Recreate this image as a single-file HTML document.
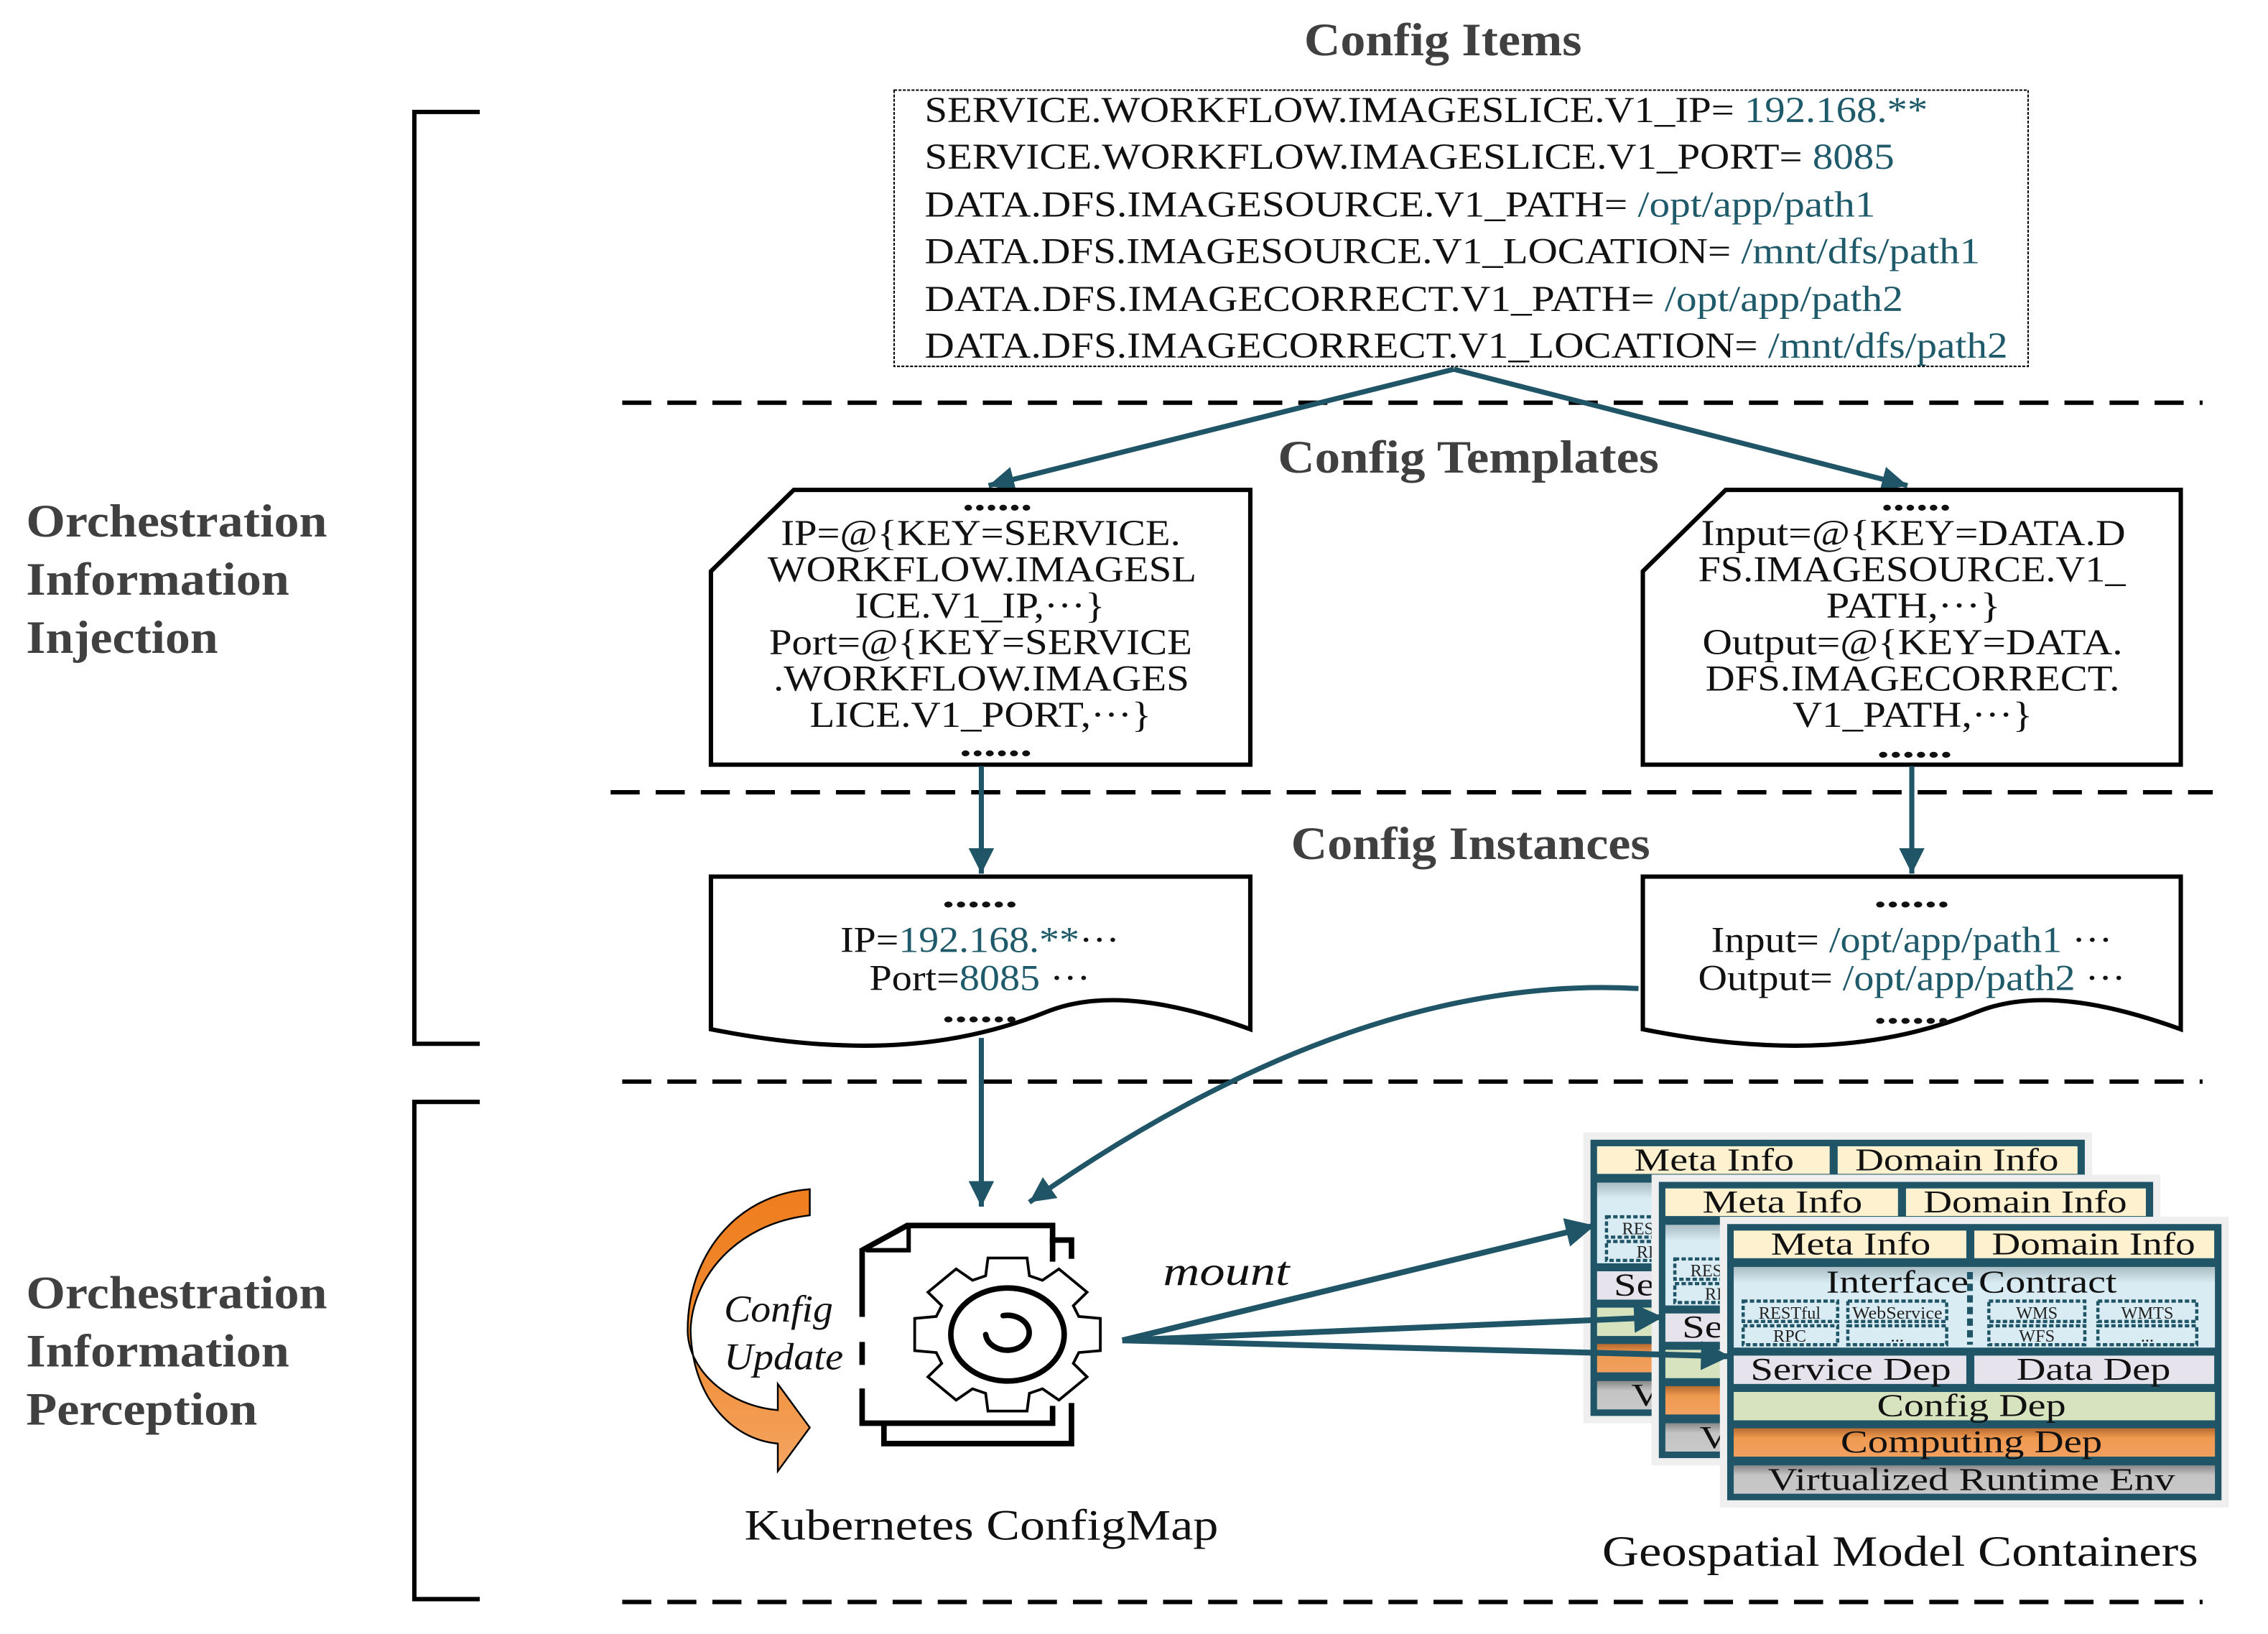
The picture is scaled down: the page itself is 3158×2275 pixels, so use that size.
<!DOCTYPE html>
<html><head><meta charset="utf-8">
<style>
html,body{margin:0;padding:0;background:#fff;}
svg{display:block;}
text{font-family:"Liberation Serif","Times New Roman",serif;}
</style></head>
<body>
<svg width="3158" height="2275" viewBox="0 0 1560 1124" preserveAspectRatio="none" xmlns="http://www.w3.org/2000/svg" font-family="'Liberation Serif', 'Times New Roman', serif">
<defs>
  <marker id="ah" viewBox="0 0 10 10" refX="10" refY="5" markerWidth="6" markerHeight="5" markerUnits="strokeWidth" orient="auto">
    <path d="M0,0 L10,5 L0,10 Z" fill="#1f5566"/>
  </marker>
  <marker id="ah2" viewBox="0 0 10 10" refX="10" refY="5" markerWidth="7" markerHeight="5" markerUnits="strokeWidth" orient="auto">
    <path d="M0,0 L10,5 L0,10 Z" fill="#1f5566"/>
  </marker>
  <linearGradient id="og" x1="0" y1="0" x2="0" y2="1">
    <stop offset="0" stop-color="#ef7d1e"/><stop offset="0.5" stop-color="#f08a30"/><stop offset="1" stop-color="#f4a562"/>
  </linearGradient>
  <linearGradient id="bl" x1="0" y1="0" x2="0" y2="1">
    <stop offset="0" stop-color="#a9bcc4"/><stop offset="0.2" stop-color="#d9ecf3"/><stop offset="1" stop-color="#d9ecf3"/>
  </linearGradient>
  <linearGradient id="cg" x1="0" y1="0" x2="0" y2="1">
    <stop offset="0" stop-color="#b86a30"/><stop offset="0.35" stop-color="#f09a50"/><stop offset="1" stop-color="#f2a060"/>
  </linearGradient>
  <linearGradient id="gg" x1="0" y1="0" x2="0" y2="1">
    <stop offset="0" stop-color="#888"/><stop offset="0.35" stop-color="#c4c4c4"/><stop offset="1" stop-color="#c8c8c8"/>
  </linearGradient>
  <g id="cont">
    <rect x="-5" y="-5" width="350" height="200" fill="#efefef"/>
    <rect x="0" y="0" width="340" height="190" fill="#1f5566"/>
    <rect x="4.5" y="4.5" width="160" height="19" fill="#fdf1cf"/>
    <rect x="170" y="4.5" width="165" height="19" fill="#fdf1cf"/>
    <text x="85" y="21" font-size="22" text-anchor="middle" fill="#111" textLength="110" lengthAdjust="spacingAndGlyphs">Meta Info</text>
    <text x="252" y="21" font-size="22" text-anchor="middle" fill="#111" textLength="140" lengthAdjust="spacingAndGlyphs">Domain Info</text>
    <rect x="4.5" y="29.5" width="331" height="55.5" fill="url(#bl)"/>
    <text x="168" y="47" font-size="22" text-anchor="middle" fill="#111" textLength="200" lengthAdjust="spacingAndGlyphs">Interface Contract</text>
    <line x1="167" y1="33" x2="167" y2="83" stroke="#1f5566" stroke-width="4" stroke-dasharray="5,3"/>
    <g fill="none" stroke="#1f5566" stroke-width="2.2" stroke-dasharray="3,1.6">
      <rect x="11" y="53" width="65" height="14"/><rect x="11" y="70" width="65" height="13"/>
      <rect x="83" y="53" width="68" height="14"/><rect x="83" y="70" width="68" height="13"/>
      <rect x="180" y="53" width="66" height="14"/><rect x="180" y="70" width="66" height="13"/>
      <rect x="255" y="53" width="68" height="14"/><rect x="255" y="70" width="68" height="13"/>
    </g>
    <g font-size="12" fill="#222" text-anchor="middle">
      <text x="43" y="65">RESTful</text><text x="43" y="81">RPC</text>
      <text x="117" y="65" textLength="62" lengthAdjust="spacingAndGlyphs">WebService</text><text x="117" y="81">...</text>
      <text x="213" y="65">WMS</text><text x="213" y="81">WFS</text>
      <text x="289" y="65">WMTS</text><text x="289" y="81">...</text>
    </g>
    <rect x="4.5" y="90.5" width="160" height="19.5" fill="#e6e3ec"/>
    <rect x="170" y="90.5" width="165" height="19.5" fill="#e6e3ec"/>
    <text x="85" y="107" font-size="22" text-anchor="middle" fill="#111" textLength="138" lengthAdjust="spacingAndGlyphs">Service Dep</text>
    <text x="252" y="107" font-size="22" text-anchor="middle" fill="#111" textLength="106" lengthAdjust="spacingAndGlyphs">Data Dep</text>
    <rect x="4.5" y="115.5" width="331" height="19.5" fill="#d7e3bf"/>
    <text x="168" y="132" font-size="22" text-anchor="middle" fill="#111" textLength="130" lengthAdjust="spacingAndGlyphs">Config Dep</text>
    <rect x="4.5" y="140.5" width="331" height="19.5" fill="url(#cg)"/>
    <text x="168" y="157" font-size="22" text-anchor="middle" fill="#111" textLength="180" lengthAdjust="spacingAndGlyphs">Computing Dep</text>
    <rect x="4.5" y="166" width="331" height="19.5" fill="url(#gg)"/>
    <text x="168" y="183" font-size="22" text-anchor="middle" fill="#111" textLength="280" lengthAdjust="spacingAndGlyphs">Virtualized Runtime Env</text>
  </g>
</defs>

<!-- brackets -->
<path d="M330,77 L285,77 L285,718 L330,718" fill="none" stroke="#000" stroke-width="3"/>
<path d="M330,758 L285,758 L285,1100 L330,1100" fill="none" stroke="#000" stroke-width="3"/>
<g font-size="32" font-weight="bold" fill="#404040">
  <text x="18" y="369" textLength="207" lengthAdjust="spacingAndGlyphs">Orchestration</text>
  <text x="18" y="409" textLength="181" lengthAdjust="spacingAndGlyphs">Information</text>
  <text x="18" y="449" textLength="132" lengthAdjust="spacingAndGlyphs">Injection</text>
  <text x="18" y="900" textLength="207" lengthAdjust="spacingAndGlyphs">Orchestration</text>
  <text x="18" y="940" textLength="181" lengthAdjust="spacingAndGlyphs">Information</text>
  <text x="18" y="980" textLength="159" lengthAdjust="spacingAndGlyphs">Perception</text>
</g>

<!-- dashed separators -->
<g stroke="#000" stroke-width="3" stroke-dasharray="20,11">
  <line x1="428" y1="277" x2="1515" y2="277"/>
  <line x1="420" y1="545" x2="1522" y2="545"/>
  <line x1="428" y1="744" x2="1515" y2="744"/>
  <line x1="428" y1="1102" x2="1515" y2="1102"/>
</g>

<!-- titles -->
<g font-size="32" font-weight="bold" fill="#404040">
  <text x="897" y="38" textLength="191" lengthAdjust="spacingAndGlyphs">Config Items</text>
  <text x="879" y="325" textLength="262" lengthAdjust="spacingAndGlyphs">Config Templates</text>
  <text x="888" y="591" textLength="247" lengthAdjust="spacingAndGlyphs">Config Instances</text>
</g>

<!-- config items -->
<rect x="615" y="62" width="780" height="190" fill="#fff" stroke="#000" stroke-width="1" stroke-dasharray="2,1"/>
<g font-size="25" fill="#111">
  <text x="636" y="84" textLength="690" lengthAdjust="spacingAndGlyphs">SERVICE.WORKFLOW.IMAGESLICE.V1_IP= <tspan fill="#1f5a6a">192.168.**</tspan></text>
  <text x="636" y="116" textLength="667" lengthAdjust="spacingAndGlyphs">SERVICE.WORKFLOW.IMAGESLICE.V1_PORT= <tspan fill="#1f5a6a">8085</tspan></text>
  <text x="636" y="149" textLength="654" lengthAdjust="spacingAndGlyphs">DATA.DFS.IMAGESOURCE.V1_PATH= <tspan fill="#1f5a6a">/opt/app/path1</tspan></text>
  <text x="636" y="181" textLength="726" lengthAdjust="spacingAndGlyphs">DATA.DFS.IMAGESOURCE.V1_LOCATION= <tspan fill="#1f5a6a">/mnt/dfs/path1</tspan></text>
  <text x="636" y="214" textLength="673" lengthAdjust="spacingAndGlyphs">DATA.DFS.IMAGECORRECT.V1_PATH= <tspan fill="#1f5a6a">/opt/app/path2</tspan></text>
  <text x="636" y="246" textLength="745" lengthAdjust="spacingAndGlyphs">DATA.DFS.IMAGECORRECT.V1_LOCATION= <tspan fill="#1f5a6a">/mnt/dfs/path2</tspan></text>
</g>

<!-- arrows from items -->
<g stroke="#1f5566" stroke-width="3.5" fill="none">
  <line x1="1000" y1="254" x2="680" y2="334" marker-end="url(#ah)"/>
  <line x1="1000" y1="254" x2="1312" y2="334" marker-end="url(#ah)"/>
</g>

<!-- template boxes -->
<g fill="#fff" stroke="#000" stroke-width="3">
  <path d="M546,337 L860,337 L860,526 L489,526 L489,393 Z"/>
  <path d="M1187,337 L1500,337 L1500,526 L1130,526 L1130,393 Z"/>
</g>
<g font-size="25" fill="#111">
  <text x="662" y="351" font-weight="bold" textLength="48" lengthAdjust="spacingAndGlyphs">......</text>
  <text x="537" y="375" textLength="275" lengthAdjust="spacingAndGlyphs">IP=@{KEY=SERVICE.</text>
  <text x="528" y="400" textLength="295" lengthAdjust="spacingAndGlyphs">WORKFLOW.IMAGESL</text>
  <text x="588" y="425" textLength="172" lengthAdjust="spacingAndGlyphs">ICE.V1_IP,···}</text>
  <text x="529" y="450" textLength="291" lengthAdjust="spacingAndGlyphs">Port=@{KEY=SERVICE</text>
  <text x="532" y="475" textLength="286" lengthAdjust="spacingAndGlyphs">.WORKFLOW.IMAGES</text>
  <text x="557" y="500" textLength="235" lengthAdjust="spacingAndGlyphs">LICE.V1_PORT,···}</text>
  <text x="660" y="520" font-weight="bold" textLength="50" lengthAdjust="spacingAndGlyphs">......</text>

  <text x="1294" y="351" font-weight="bold" textLength="48" lengthAdjust="spacingAndGlyphs">......</text>
  <text x="1170" y="375" textLength="292" lengthAdjust="spacingAndGlyphs">Input=@{KEY=DATA.D</text>
  <text x="1168" y="400" textLength="294" lengthAdjust="spacingAndGlyphs">FS.IMAGESOURCE.V1_</text>
  <text x="1256" y="425" textLength="120" lengthAdjust="spacingAndGlyphs">PATH,···}</text>
  <text x="1171" y="450" textLength="289" lengthAdjust="spacingAndGlyphs">Output=@{KEY=DATA.</text>
  <text x="1173" y="475" textLength="285" lengthAdjust="spacingAndGlyphs">DFS.IMAGECORRECT.</text>
  <text x="1233" y="500" textLength="165" lengthAdjust="spacingAndGlyphs">V1_PATH,···}</text>
  <text x="1291" y="521" font-weight="bold" textLength="52" lengthAdjust="spacingAndGlyphs">......</text>
</g>

<!-- template -> instance arrows -->
<g stroke="#1f5566" stroke-width="3.5" fill="none">
  <line x1="675" y1="527" x2="675" y2="601" marker-end="url(#ah)"/>
  <line x1="1315" y1="527" x2="1315" y2="601" marker-end="url(#ah)"/>
</g>

<!-- instance boxes -->
<g fill="#fff" stroke="#000" stroke-width="3">
  <path d="M489,603 L860,603 L860,708 C810,690 760,680 720,696 C660,720 590,728 489,708 Z"/>
  <path d="M1130,603 L1500,603 L1500,708 C1450,690 1400,680 1360,696 C1300,720 1230,728 1130,708 Z"/>
</g>
<g font-size="25" fill="#111">
  <text x="648" y="624" font-weight="bold" textLength="52" lengthAdjust="spacingAndGlyphs">......</text>
  <text x="578" y="655" textLength="192" lengthAdjust="spacingAndGlyphs">IP=<tspan fill="#1f5a6a">192.168.**</tspan>···</text>
  <text x="598" y="681" textLength="152" lengthAdjust="spacingAndGlyphs">Port=<tspan fill="#1f5a6a">8085</tspan> ···</text>
  <text x="648" y="703" font-weight="bold" textLength="52" lengthAdjust="spacingAndGlyphs">......</text>
  <text x="1289" y="624" font-weight="bold" textLength="52" lengthAdjust="spacingAndGlyphs">......</text>
  <text x="1177" y="655" textLength="276" lengthAdjust="spacingAndGlyphs">Input= <tspan fill="#1f5a6a">/opt/app/path1</tspan> ···</text>
  <text x="1168" y="681" textLength="294" lengthAdjust="spacingAndGlyphs">Output= <tspan fill="#1f5a6a">/opt/app/path2</tspan> ···</text>
  <text x="1289" y="704" font-weight="bold" textLength="52" lengthAdjust="spacingAndGlyphs">......</text>
</g>

<!-- instance -> configmap arrows -->
<g stroke="#1f5566" stroke-width="3.5" fill="none">
  <line x1="675" y1="714" x2="675" y2="830" marker-end="url(#ah)"/>
  <path d="M1127,680 C1000,673 860,720 708,827" marker-end="url(#ah)"/>
</g>

<!-- orange config update arrow -->
<path d="M557,818 L557,836 C505,842 476,880 475,915 C476,960 502,990 535,993 L535,1012 L557,982 L535,952 L535,970 C500,967 473,942 473,915 C473,865 505,822 557,818 Z" fill="url(#og)" stroke="#000" stroke-width="1.2"/>
<g font-size="26" font-style="italic" fill="#111">
  <text x="498" y="909" textLength="75" lengthAdjust="spacingAndGlyphs">Config</text>
  <text x="498" y="942" textLength="82" lengthAdjust="spacingAndGlyphs">Update</text>
</g>

<!-- configmap icon -->
<g fill="none" stroke="#000" stroke-width="3.8" stroke-linecap="square">
  <path d="M593,904 L593,860 L624,843 L724,843 L724,866"/>
  <path d="M593,925 L593,937"/>
  <path d="M593,957 L593,979 L724,979 L724,969"/>
  <path d="M597,860 L625,860 L625,846" stroke-width="3"/>
  <path d="M724,853 L737,853 L737,864"/>
  <path d="M737,967 L737,993 L608,993 L608,982"/>
  <g transform="translate(693,918) scale(1.14,0.94)">
    <polygon vector-effect="non-scaling-stroke" fill="#fff" points="-13.2,-43 -11.8,-56 11.8,-56 13.2,-43 21.1,-39.7 31,-48 48,-31 39.7,-21.1 43,-13.2 56,-11.8 56,11.8 43,13.2 39.7,21.1 48,31 31,48 21.1,39.7 13.2,43 11.8,56 -11.8,56 -13.2,43 -21.1,39.7 -31,48 -48,31 -39.7,21.1 -43,13.2 -56,11.8 -56,-11.8 -43,-13.2 -39.7,-21.1 -48,-31 -31,-48 -21.1,-39.7"/>
  </g>
  <ellipse cx="693" cy="918" rx="39" ry="32"/>
  <path d="M690,905 A15,12 0 1 1 678,918" stroke-linecap="round"/>
</g>
<text x="512" y="1059" font-size="30" fill="#111" textLength="326" lengthAdjust="spacingAndGlyphs">Kubernetes ConfigMap</text>

<!-- containers -->
<use href="#cont" x="1094" y="784"/>
<use href="#cont" x="1141" y="813"/>
<use href="#cont" x="1188" y="842"/>
<text x="1102" y="1077" font-size="30" fill="#111" textLength="410" lengthAdjust="spacingAndGlyphs">Geospatial Model Containers</text>

<!-- mount arrows -->
<text x="800" y="884" font-size="28" font-style="italic" fill="#111" textLength="87" lengthAdjust="spacingAndGlyphs">mount</text>
<g stroke="#1f5566" stroke-width="4" fill="none">
  <line x1="772" y1="922" x2="1097" y2="843" marker-end="url(#ah2)"/>
  <line x1="772" y1="922" x2="1144" y2="906" marker-end="url(#ah2)"/>
  <line x1="772" y1="922" x2="1190" y2="933" marker-end="url(#ah2)"/>
</g>
</svg>
</body></html>
